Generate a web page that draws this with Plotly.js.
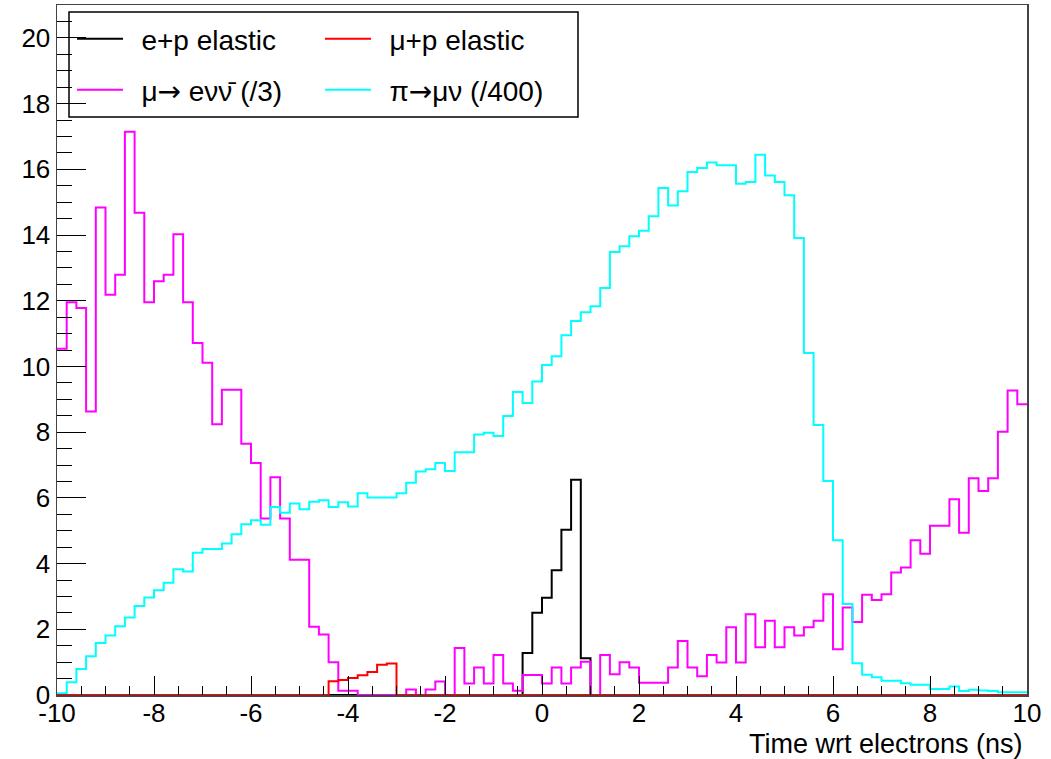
<!DOCTYPE html>
<html>
<head>
<meta charset="utf-8">
<script src="https://cdn.plot.ly/plotly-3.0.1.min.js"></script>
<style>
  html, body { margin: 0; padding: 0; background: #fff; }
  #chart { width: 1051px; height: 759px; }
</style>
</head>
<body>
<div id="chart"></div>
<script>
// Histogram binning: 100 bins of 0.2 ns between -10 and 10 ns
const xMin = -10;
const xMax = 10;
const nBins = 100;

// Series names (legend labels)
const ARROW = '<span style="font-family:DejaVu Sans">\u2192</span>';
const PAD = "\u2009\u00a0";
const names = [
  PAD + "e+p elastic",
  PAD + "\u03bc+p elastic",
  PAD + "\u03bc" + ARROW + " e\u03bd\u03bd\u0304 (/3)",
  PAD + "\u03c0" + ARROW + "\u03bc\u03bd (/400)"
];

// e+p elastic (black)
const epElastic = [
  0,0,0,0,0,0,0,0,0,0, 0,0,0,0,0,0,0,0,0,0,
  0,0,0,0,0,0,0,0,0,0, 0,0,0,0,0,0,0,0,0,0,
  0,0,0,0,0,0,0,0,1.28,2.50, 2.96,3.80,5.03,6.55,1.12,0,0,0,0,0,
  0,0,0,0,0,0,0,0,0,0, 0,0,0,0,0,0,0,0,0,0,
  0,0,0,0,0,0,0,0,0,0, 0,0,0,0,0,0,0,0,0,0
];

// mu+p elastic (red)
const mupElastic = [
  0,0,0,0,0,0,0,0,0,0, 0,0,0,0,0,0,0,0,0,0,
  0,0,0,0,0,0,0,0,0.42,0.46, 0.52,0.60,0.70,0.92,0.96,0,0,0,0,0,
  0,0,0,0,0,0,0,0,0,0, 0,0,0,0,0,0,0,0,0,0,
  0,0,0,0,0,0,0,0,0,0, 0,0,0,0,0,0,0,0,0,0,
  0,0,0,0,0,0,0,0,0,0, 0,0,0,0,0,0,0,0,0,0
];

// mu -> e nu nubar (/3) (magenta)
const muDecay = [
  10.54,11.95,11.78,8.63,14.84,12.18,12.79,17.14,14.68,11.95,
  12.59,12.79,14.02,11.95,10.71,10.11,8.24,9.29,9.29,7.65,
  7.06,5.37,6.63,5.37,4.12,4.12,2.08,1.84,1.00,0.13,
  0.13,0,0,0,0,0,0.17,0,0.17,0.41,
  0,1.43,0.35,0.84,0.35,1.22,0.35,0.13,0.61,0.61,
  0.35,0.84,0.35,0.84,1.01,0,1.22,0.63,1.00,0.84,
  0.37,0.37,0.37,0.84,1.64,0.84,0.57,1.22,0.99,2.06,
  0.99,2.46,1.45,2.26,1.45,2.06,1.81,2.06,2.26,3.07,
  1.39,2.66,2.22,3.05,2.89,3.07,3.73,3.88,4.71,4.30,
  5.15,5.15,5.96,4.94,6.60,6.21,6.60,8.01,9.27,8.85
];

// pi -> mu nu (/400) (cyan)
const piDecay = [
  0.05,0.39,0.79,1.18,1.58,1.81,2.09,2.36,2.71,2.97,
  3.19,3.42,3.83,3.76,4.33,4.44,4.44,4.61,4.89,5.20,
  5.32,5.18,5.72,5.55,5.83,5.65,5.88,5.93,5.72,5.87,
  5.74,6.14,6.01,6.01,6.01,6.14,6.46,6.80,6.87,7.06,
  6.82,7.39,7.39,7.93,7.98,7.88,8.49,9.22,8.89,9.54,
  10.04,10.31,10.95,11.38,11.65,11.83,12.39,13.48,13.66,13.96,
  14.13,14.57,15.43,14.90,15.33,15.92,16.04,16.21,16.12,16.12,
  15.56,15.61,16.44,15.81,15.61,15.21,13.91,10.41,8.22,6.51,
  4.71,2.77,0.97,0.62,0.54,0.43,0.43,0.36,0.31,0.31,
  0.18,0.18,0.26,0.12,0.16,0.14,0.12,0.08,0.08,0.08
];

// tick labels
const xTickVals = [-10, -8, -6, -4, -2, 0, 2, 4, 6, 8, 10];
const yTickVals = [0, 2, 4, 6, 8, 10, 12, 14, 16, 18, 20];

// bin edges
const binW = (xMax - xMin) / nBins;
const edges = Array.from({length: nBins + 1}, (_, i) => xMin + i * binW);
function stepY(vals) { return vals.concat([vals[vals.length - 1]]); }

const FONT = "Liberation Sans, Arial, Helvetica, sans-serif";

function histTrace(vals, name, color, legendId) {
  return {
    type: "scatter",
    mode: "lines",
    x: edges,
    y: stepY(vals),
    name: name,
    legend: legendId,
    line: {color: color, width: 2, shape: "hv"},
    hoverinfo: "x+y+name"
  };
}

const data = [
  histTrace(epElastic, names[0], "#000000", "legend"),
  histTrace(muDecay, names[2], "#ff00ff", "legend2"),
  histTrace(piDecay, names[3], "#00ffff", "legend2"),
  histTrace(mupElastic, names[1], "#ff0000", "legend")
];

const L = 57, R = 24, T = 5, B = 64;
const W = 1051, H = 759;
const pw = W - L - R, ph = H - T - B;
function px2paperX(px) { return (px - L) / pw; }
function px2paperY(py) { return (H - B - py) / ph; }

const legendCommon = {
  orientation: "h",
  xanchor: "left",
  yanchor: "middle",
  bgcolor: "rgba(0,0,0,0)",
  borderwidth: 0,
  font: {family: FONT, size: 28, color: "#000"},
  entrywidth: 187,
  entrywidthmode: "pixels",
  itemwidth: 46,
  traceorder: "normal"
};

const layout = {
  width: W,
  height: H,
  margin: {l: L, r: R, t: T, b: B, pad: 0},
  paper_bgcolor: "#ffffff",
  plot_bgcolor: "#ffffff",
  showlegend: true,
  legend: Object.assign({}, legendCommon, {x: px2paperX(72), y: px2paperY(39)}),
  legend2: Object.assign({}, legendCommon, {x: px2paperX(72), y: px2paperY(90)}),
  xaxis: {
    range: [xMin, xMax],
    tickmode: "array",
    tickvals: xTickVals,
    ticktext: xTickVals.map(String),
    ticks: "inside",
    ticklen: 19,
    tickwidth: 1,
    tickcolor: "#000",
    ticklabelstandoff: -6,
    minor: {ticks: "inside", dtick: 0.5, tick0: -10, ticklen: 9, tickwidth: 1, tickcolor: "#000", showgrid: false},
    showgrid: false,
    zeroline: false,
    showline: true,
    linecolor: "#444",
    linewidth: 1.5,
    mirror: true,
    tickfont: {family: FONT, size: 26, color: "#000"},
    fixedrange: true
  },
  yaxis: {
    range: [0, 21],
    tickmode: "array",
    tickvals: yTickVals,
    ticktext: yTickVals.map(String),
    ticks: "inside",
    ticklen: 29,
    tickwidth: 1,
    tickcolor: "#000",
    minor: {ticks: "inside", dtick: 0.5, tick0: 0, ticklen: 15, tickwidth: 1, tickcolor: "#000", showgrid: false},
    showgrid: false,
    zeroline: false,
    showline: true,
    linecolor: "#444",
    linewidth: 1.5,
    mirror: true,
    tickfont: {family: FONT, size: 26, color: "#000"},
    fixedrange: true
  },
  shapes: [{
    type: "rect",
    xref: "paper", yref: "paper",
    x0: px2paperX(69), x1: px2paperX(578),
    y0: px2paperY(117), y1: px2paperY(12),
    line: {color: "#000", width: 1.5},
    fillcolor: "rgba(0,0,0,0)",
    layer: "above"
  }],
  annotations: [{
    text: "Time wrt electrons (ns)",
    xref: "paper", yref: "paper",
    x: px2paperX(1024), y: px2paperY(744),
    xanchor: "right", yanchor: "middle",
    borderpad: 0,
    showarrow: false,
    font: {family: FONT, size: 27, color: "#000"}
  }]
};

Plotly.newPlot("chart", data, layout, {displayModeBar: false, staticPlot: true});
</script>
</body>
</html>
